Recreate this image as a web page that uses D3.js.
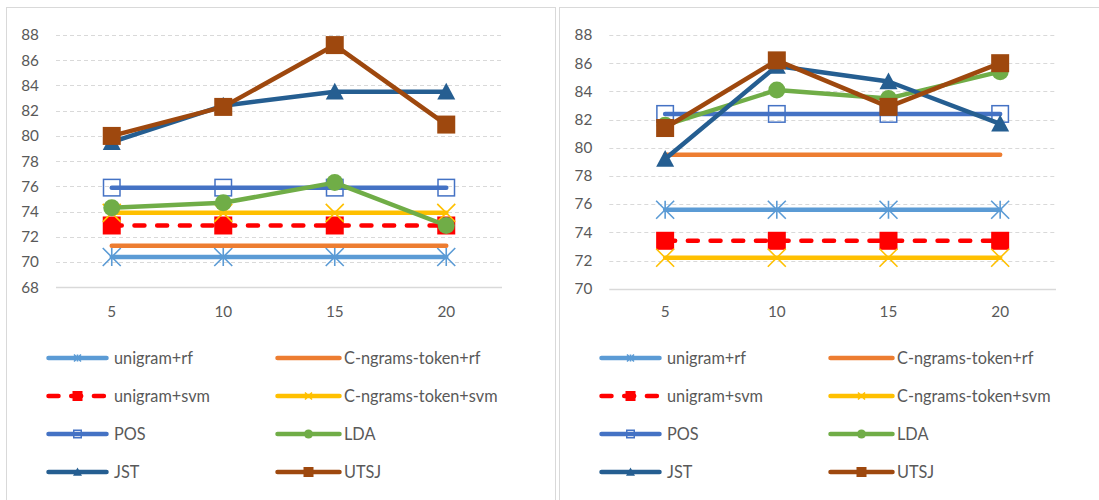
<!DOCTYPE html>
<head>
  <meta charset="utf-8">
  <script src="https://d3js.org/d3.v7.min.js"></script>
  <style>
    body { margin:0; background:#fff; }
    text { font-family: Lato, 'Open Sans', sans-serif; fill:#595959; }
  </style>
</head>
<body>
<script>
  // categories on the x axis
  const categories = ['5', '10', '15', '20'];

  const seriesNames = ['unigram+rf', 'C-ngrams-token+rf', 'unigram+svm', 'C-ngrams-token+svm',
                       'POS', 'LDA', 'JST', 'UTSJ'];

  // left panel values, same order as seriesNames
  const leftValues = [
    [70.4, 70.4, 70.4, 70.4],
    [71.3, 71.3, 71.3, 71.3],
    [72.9, 72.9, 72.9, 72.9],
    [73.9, 73.9, 73.9, 73.9],
    [75.9, 75.9, 75.9, 75.9],
    [74.3, 74.7, 76.3, 72.9],
    [79.5, 82.4, 83.5, 83.5],
    [80.0, 82.3, 87.2, 80.9]
  ];

  // right panel values
  const rightValues = [
    [75.6, 75.6, 75.6, 75.6],
    [79.5, 79.5, 79.5, 79.5],
    [73.4, 73.4, 73.4, 73.4],
    [72.2, 72.2, 72.2, 72.2],
    [82.4, 82.4, 82.4, 82.4],
    [81.6, 84.1, 83.5, 85.4],
    [79.2, 85.8, 84.7, 81.7],
    [81.4, 86.2, 82.9, 86.0]
  ];

  const leftTicks = [68, 70, 72, 74, 76, 78, 80, 82, 84, 86, 88];
  const rightTicks = [70, 72, 74, 76, 78, 80, 82, 84, 86, 88];

  // style per series: colour, marker type, dashed or not
  const styles = [
    {color: '#5B9BD5', marker: 'star'},
    {color: '#ED7D31', marker: 'none'},
    {color: '#FF0000', marker: 'square', dash: true},
    {color: '#FFC000', marker: 'x'},
    {color: '#4472C4', marker: 'hollow'},
    {color: '#70AD47', marker: 'circle'},
    {color: '#255E91', marker: 'triangle'},
    {color: '#9E480E', marker: 'square'}
  ];

  const svg = d3.select('body').append('svg')
      .attr('width', 1099)
      .attr('height', 500);

  function drawMarker(g, type, color, s) {
    const h = s / 2;
    if (type === 'square') {
      g.append('rect').attr('x', -h).attr('y', -h).attr('width', s).attr('height', s)
        .style('fill', color);
    } else if (type === 'hollow') {
      g.append('rect').attr('x', -h + 0.75).attr('y', -h + 0.75)
        .attr('width', s - 1.5).attr('height', s - 1.5)
        .style('fill', 'none').style('stroke', color).style('stroke-width', 1.5);
    } else if (type === 'circle') {
      g.append('circle').attr('r', h).style('fill', color);
    } else if (type === 'triangle') {
      g.append('path').attr('d', `M0,${-h}L${h},${h * 0.85}L${-h},${h * 0.85}Z`)
        .style('fill', color);
    } else if (type === 'x' || type === 'star') {
      let d = `M${-h},${-h}L${h},${h}M${h},${-h}L${-h},${h}`;
      if (type === 'star') d += `M0,${-h}L0,${h}`;
      g.append('path').attr('d', d)
        .style('fill', 'none').style('stroke', color).style('stroke-width', 1.6);
    }
  }

  function drawPanel(px, pw, plot, values, ticks, legendX) {
    const panel = svg.append('g');

    // panel frame
    panel.append('rect')
      .attr('x', px + 0.5).attr('y', 7.5)
      .attr('width', pw).attr('height', 520)
      .style('fill', '#fff').style('stroke', '#D9D9D9').style('stroke-width', 1);

    const x = d3.scalePoint().domain(categories).range([plot.x0, plot.x1]).padding(0.5);
    const y = d3.scaleLinear().domain([ticks[0], ticks[ticks.length - 1]])
                .range([plot.y1, plot.y0]);

    // gridlines
    panel.append('g').selectAll('line')
      .data(ticks)
      .enter().append('line')
      .attr('x1', plot.x0).attr('x2', plot.x1)
      .attr('y1', d => Math.round(y(d)) + 0.5).attr('y2', d => Math.round(y(d)) + 0.5)
      .style('stroke', '#D9D9D9')
      .style('stroke-width', (d, i) => i == 0 ? 1.5 : 1)
      .style('stroke-dasharray', (d, i) => i == 0 ? null : '4,3');

    // y labels
    panel.append('g').selectAll('text')
      .data(ticks)
      .enter().append('text')
      .attr('x', plot.x0 - 17)
      .attr('y', d => y(d))
      .attr('dy', '0.35em')
      .attr('text-anchor', 'end')
      .style('font-size', '15.3px')
      .text(d => d);

    // x labels
    panel.append('g').selectAll('text')
      .data(categories)
      .enter().append('text')
      .attr('x', d => x(d))
      .attr('y', 317)
      .attr('text-anchor', 'middle')
      .style('font-size', '15.3px')
      .text(d => d);

    const line = d3.line().x((d, i) => x(categories[i])).y(d => y(d));

    values.forEach((vals, si) => {
      const st = styles[si];
      const sg = panel.append('g');
      sg.append('path')
        .attr('d', line(vals))
        .style('fill', 'none')
        .style('stroke', st.color)
        .style('stroke-width', 4.5)
        .style('stroke-linecap', 'round')
        .style('stroke-linejoin', 'round')
        .style('stroke-dasharray', st.dash ? '10,12.7' : null);
      if (st.marker !== 'none') {
        vals.forEach((v, i) => {
          const mg = sg.append('g').attr('transform', `translate(${x(categories[i])},${y(v)})`);
          drawMarker(mg, st.marker, st.color, st.marker === 'circle' ? 17 : 18);
        });
      }
    });

    // legend
    const rows = [358, 396, 434, 472];
    const leg = panel.append('g');
    seriesNames.forEach((name, si) => {
      const st = styles[si];
      const col = si % 2, row = Math.floor(si / 2);
      const lx0 = legendX + (col == 0 ? 40 : 269);
      const lx1 = legendX + (col == 0 ? 103 : 336);
      const ly = rows[row];
      const lg = leg.append('g');
      if (st.dash) {
        lg.append('line').attr('x1', lx0 + 2.5).attr('x2', lx1 - 2).attr('y1', ly).attr('y2', ly)
          .style('stroke', st.color).style('stroke-width', 4.5)
          .style('stroke-linecap', 'round').style('stroke-dasharray', '10,12.7');
      } else {
        lg.append('line').attr('x1', lx0 + 2.5).attr('x2', lx1 - 2.5).attr('y1', ly).attr('y2', ly)
          .style('stroke', st.color).style('stroke-width', 4.5)
          .style('stroke-linecap', 'round');
      }
      if (st.marker !== 'none') {
        const mg = lg.append('g').attr('transform', `translate(${(lx0 + lx1) / 2},${ly})`);
        const ms = st.marker === 'square' ? 10 : (st.marker === 'star' || st.marker === 'x') ? 7 : 9;
        drawMarker(mg, st.marker, st.color, ms);
      }
      lg.append('text')
        .attr('x', legendX + (col == 0 ? 108 : 338))
        .attr('y', ly)
        .attr('dy', '0.35em')
        .style('font-size', '16.3px')
        .text(name);
    });
  }

  drawPanel(6, 549, {x0: 56, x1: 502, y0: 35, y1: 287.3}, leftValues, leftTicks, 6);
  drawPanel(559, 560, {x0: 609.3, x1: 1056, y0: 35, y1: 288.7}, rightValues, rightTicks, 559);
</script>
</body>
